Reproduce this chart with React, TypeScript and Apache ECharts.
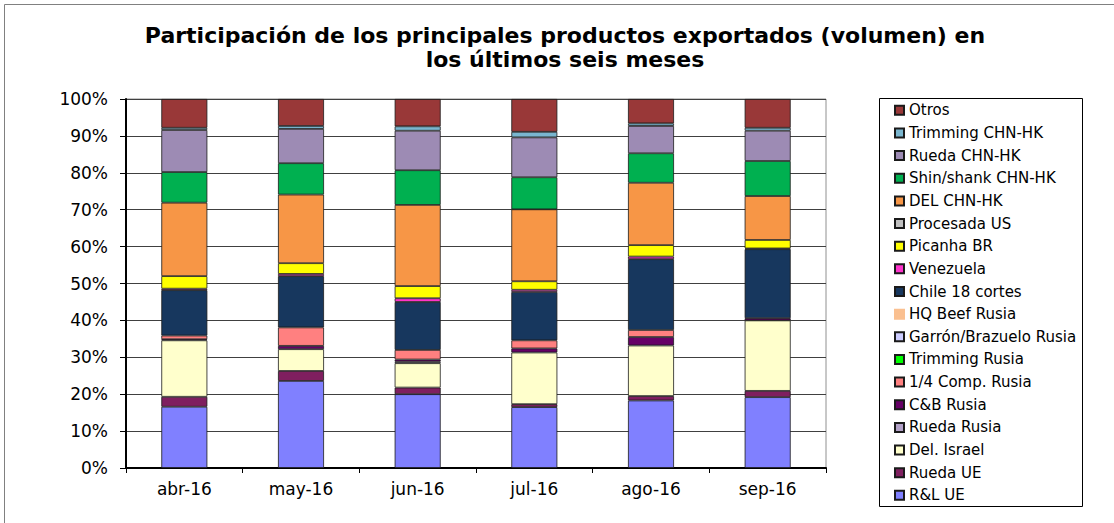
import React, { useEffect, useRef } from "react";
import * as echarts from "echarts";

const months = ["abr-16", "may-16", "jun-16", "jul-16", "ago-16", "sep-16"];

// Series, bottom of the stack first
const seriesNames = [
  "R&L UE",
  "Rueda UE",
  "Del. Israel",
  "Rueda Rusia",
  "C&B Rusia",
  "1/4 Comp. Rusia",
  "Trimming Rusia",
  "Garrón/Brazuelo Rusia",
  "HQ Beef Rusia",
  "Chile 18 cortes",
  "Venezuela",
  "Picanha BR",
  "Procesada US",
  "DEL CHN-HK",
  "Shin/shank CHN-HK",
  "Rueda CHN-HK",
  "Trimming CHN-HK",
  "Otros",
];

const rlUE = [16.6, 23.6, 20.0, 16.5, 18.3, 19.2];
const ruedaUE = [2.7, 2.7, 1.8, 0.8, 1.2, 1.7];
const delIsrael = [15.3, 5.9, 6.6, 14.0, 13.7, 19.1];
const ruedaRusia = [0, 0, 0.4, 0, 0, 0];
const cbRusia = [0.3, 0.9, 0.6, 1.1, 2.3, 0.6];
const compRusia = [1.0, 5.0, 2.6, 2.2, 1.9, 0];
const trimmingRusia = [0, 0, 0, 0, 0, 0];
const garronRusia = [0, 0, 0, 0, 0, 0];
const hqBeefRusia = [0, 0, 0, 0, 0, 0];
const chile18 = [12.3, 13.9, 13.0, 13.1, 19.2, 18.7];
const venezuela = [0.4, 0.6, 1.0, 0.6, 0.7, 0.2];
const picanhaBR = [3.4, 2.9, 3.3, 2.3, 3.1, 2.3];
const procesadaUS = [0, 0, 0, 0, 0, 0];
const delCHN = [19.9, 18.6, 22.0, 19.5, 16.9, 11.9];
const shinCHN = [8.3, 8.5, 9.4, 8.7, 8.0, 9.5];
const ruedaCHN = [11.4, 9.3, 10.7, 10.8, 7.4, 8.2];
const trimmingCHN = [0.6, 0.8, 1.2, 1.5, 0.7, 0.8];
const otros = [7.8, 7.3, 7.4, 8.9, 6.6, 7.8];

const seriesValues = [
  rlUE, ruedaUE, delIsrael, ruedaRusia, cbRusia, compRusia, trimmingRusia,
  garronRusia, hqBeefRusia, chile18, venezuela, picanhaBR, procesadaUS,
  delCHN, shinCHN, ruedaCHN, trimmingCHN, otros,
];

const seriesColors = [
  "#8080FF", "#7F1F5F", "#FFFFCC", "#B2A1C7", "#660066", "#FF8080", "#00FF00",
  "#CCCCFF", "#FAC090", "#17375E", "#FF33CC", "#FFFF00", "#C0C0C0",
  "#F79646", "#00B050", "#9D8BB4", "#7AB6CF", "#993838",
];

const yTicks = [0, 10, 20, 30, 40, 50, 60, 70, 80, 90, 100];

const titleText =
  "Participación de los principales productos exportados (volumen) en\nlos últimos seis meses";

export default function App() {
  const ref = useRef<HTMLDivElement>(null);

  useEffect(() => {
    document.body.style.margin = "0";
    const chart = echarts.init(ref.current!, undefined, { renderer: "svg" });
    const font = "DejaVu Sans";
    const series = seriesNames.map((name, i) => ({
      name,
      type: "bar",
      stack: "total",
      barWidth: 46,
      data: seriesValues[i].map((v) => (v === 0 ? "-" : v)),
      itemStyle: {
        color: seriesColors[i],
        borderColor: name === "HQ Beef Rusia" ? seriesColors[i] : "#1a1a1a",
        borderWidth: 0.8,
      },
      emphasis: { disabled: true },
    }));

    chart.setOption({
      animation: false,
      backgroundColor: "#fff",
      grid: { left: 126, right: 288, top: 99, bottom: 55, containLabel: false },
      xAxis: {
        type: "category",
        data: months,
        boundaryGap: true,
        axisLine: { show: true, lineStyle: { color: "#000", width: 2 } },
        axisTick: { show: true, length: 5, lineStyle: { color: "#000", width: 1 } },
        axisLabel: { color: "#000", fontFamily: font, fontSize: 17, margin: 12 },
        splitLine: { show: false },
      },
      yAxis: {
        type: "value",
        min: yTicks[0],
        max: yTicks[yTicks.length - 1],
        interval: 10,
        axisLine: { show: true, lineStyle: { color: "#000", width: 2 } },
        axisTick: { show: true, length: 6, lineStyle: { color: "#000", width: 1 } },
        axisLabel: {
          color: "#000",
          fontFamily: font,
          fontSize: 17,
          margin: 18,
          formatter: "{value}%",
        },
        splitLine: { show: true, lineStyle: { color: "#404040", width: 1 } },
      },
      legend: {
        orient: "vertical",
        left: 889,
        top: 97.8,
        itemWidth: 9,
        itemHeight: 9,
        itemGap: 7.65,
        icon: "rect",
        data: [...seriesNames].reverse(),
        textStyle: { color: "#000", fontFamily: font, fontSize: 15, lineHeight: 15 },
        selectedMode: false,
      },
      graphic: [
        {
          type: "rect",
          z: -10,
          shape: { x: 4.5, y: 4.5, width: 1300, height: 700 },
          style: { fill: "none", stroke: "#808080", lineWidth: 1 },
          silent: true,
        },
        {
          type: "rect",
          z: -5,
          shape: { x: 126, y: 99, width: 700, height: 369 },
          style: { fill: "none", stroke: "#909090", lineWidth: 1 },
          silent: true,
        },
        {
          type: "rect",
          shape: { x: 879.5, y: 98.5, width: 203, height: 408 },
          style: { fill: "none", stroke: "#000", lineWidth: 1 },
          silent: true,
        },
        {
          type: "text",
          x: 565,
          y: 23,
          style: {
            text: titleText,
            font: `bold 22px "${font}"`,
            fill: "#000",
            textAlign: "center",
            textVerticalAlign: "top",
            lineHeight: 24,
          },
          silent: true,
        },
      ],
      series,
    });

    return () => chart.dispose();
  }, []);

  return <div ref={ref} style={{ width: 1114, height: 523 }} />;
}
